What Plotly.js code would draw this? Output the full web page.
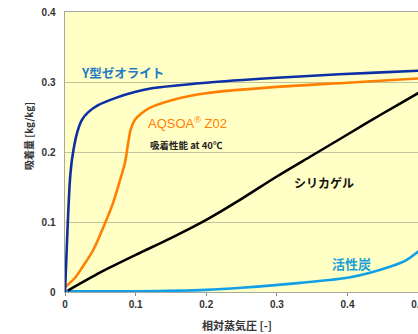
<!DOCTYPE html>
<html><head><meta charset="utf-8">
<script src="https://cdn.plot.ly/plotly-3.0.1.min.js"></script>
<style>html,body{margin:0;padding:0;overflow:hidden;background:#fff;width:418px;height:334px}</style>
</head><body><div id="c"></div>
<script>
const zeoX = [0, 0.002, 0.004, 0.007, 0.010, 0.017, 0.024, 0.033, 0.047, 0.071, 0.100, 0.123, 0.200, 0.300, 0.388, 0.500, 0.531];
const zeoY = [0, 0.050, 0.100, 0.160, 0.190, 0.227, 0.246, 0.257, 0.267, 0.277, 0.286, 0.291, 0.299, 0.306, 0.311, 0.316, 0.317];
const aqX = [0, 0.014, 0.025, 0.040, 0.057, 0.068, 0.078, 0.085, 0.089, 0.093, 0.099, 0.108, 0.120, 0.163, 0.200, 0.300, 0.400, 0.500, 0.531];
const aqY = [0.007, 0.020, 0.036, 0.060, 0.099, 0.127, 0.160, 0.185, 0.210, 0.232, 0.246, 0.255, 0.263, 0.277, 0.284, 0.293, 0.299, 0.305, 0.307];
const siX = [0.004, 0.050, 0.100, 0.150, 0.200, 0.250, 0.300, 0.350, 0.400, 0.450, 0.500, 0.531];
const siY = [0.002, 0.028, 0.053, 0.077, 0.103, 0.133, 0.165, 0.195, 0.225, 0.255, 0.284, 0.302];
const acX = [0, 0.100, 0.200, 0.250, 0.333, 0.404, 0.460, 0.484, 0.498, 0.531];
const acY = [0.001, 0.001, 0.003, 0.006, 0.013, 0.021, 0.036, 0.046, 0.056, 0.085];
const xTicks = [0, 0.1, 0.2, 0.3, 0.4, 0.5];
const xTickText = ['0', '0.1', '0.2', '0.3', '0.4', '0.5'];
const yTicks = [0, 0.1, 0.2, 0.3, 0.4];
const yTickText = ['0', '0.1', '0.2', '0.3', '0.4'];

const JP = '"Noto Sans CJK JP", "Liberation Sans", sans-serif';
const mk = (x, y, c) => ({x, y, type: 'scatter', mode: 'lines', line: {color: c, width: 2.6, shape: 'spline', smoothing: 0.8}, hoverinfo: 'skip'});
const data = [
  mk(acX, acY, '#129fe6'),
  mk(siX, siY, '#000000'),
  mk(aqX, aqY, '#ff8000'),
  mk(zeoX, zeoY, '#0c2fa6')
];
const layout = {
  width: 440, height: 334,
  margin: {l: 65, r: 0, t: 12, b: 42},
  paper_bgcolor: '#ffffff', plot_bgcolor: '#ffffc6',
  showlegend: false,
  xaxis: {range: [0, 0.531], tickvals: xTicks, ticktext: xTickText, showgrid: false, zeroline: false,
    showline: true, linecolor: '#a8a8a0', linewidth: 1, mirror: true,
    ticks: 'outside', ticklen: 3, tickcolor: '#888', tickfont: {family: '"Liberation Sans", Arial, sans-serif', size: 10, color: '#333', weight: 'bold'}},
  yaxis: {range: [0, 0.4], tickvals: yTicks, ticktext: yTickText, showgrid: true, gridcolor: '#c3c39a', gridwidth: 1, zeroline: false,
    showline: true, linecolor: '#a8a8a0', linewidth: 1.5, ticks: '', ticklabelstandoff: 6,
    tickfont: {family: '"Liberation Sans", Arial, sans-serif', size: 10, color: '#333', weight: 'bold'}},
  annotations: [
    {xref: 'x', yref: 'y', x: 0.081, y: 0.313, text: '<b>Y型ゼオライト</b>', showarrow: false, font: {family: JP, size: 12.5, color: '#1f7bc4'}},
    {xref: 'x', yref: 'y', x: 0.173, y: 0.241, text: 'AQSOA<sup>®</sup> Z02', showarrow: false, font: {family: '"Liberation Sans", Arial, sans-serif', size: 13, color: '#ff8000'}},
    {xref: 'x', yref: 'y', x: 0.172, y: 0.210, text: '<b>吸着性能 at 40℃</b>', showarrow: false, font: {family: JP, size: 9.5, color: '#222'}},
    {xref: 'x', yref: 'y', x: 0.367, y: 0.157, text: '<b>シリカゲル</b>', showarrow: false, font: {family: JP, size: 12, color: '#111'}},
    {xref: 'x', yref: 'y', x: 0.405, y: 0.041, text: '<b>活性炭</b>', showarrow: false, font: {family: JP, size: 13, color: '#1a9fd8'}},
    {xref: 'paper', yref: 'paper', x: -0.099, y: 0.557, xanchor: 'center', yanchor: 'middle', text: '<b>吸着量 [kg/kg]</b>', textangle: -90, showarrow: false, font: {family: JP, size: 10, color: '#333'}},
    {xref: 'paper', yref: 'paper', x: (237 - 65) / 375, y: -(325 - 292) / 280, xanchor: 'center', yanchor: 'middle', text: '<b>相対蒸気圧 [-]</b>', showarrow: false, font: {family: JP, size: 11, color: '#333'}}
  ]
};
Plotly.newPlot('c', data, layout, {staticPlot: true, displayModeBar: false});
</script></body></html>
